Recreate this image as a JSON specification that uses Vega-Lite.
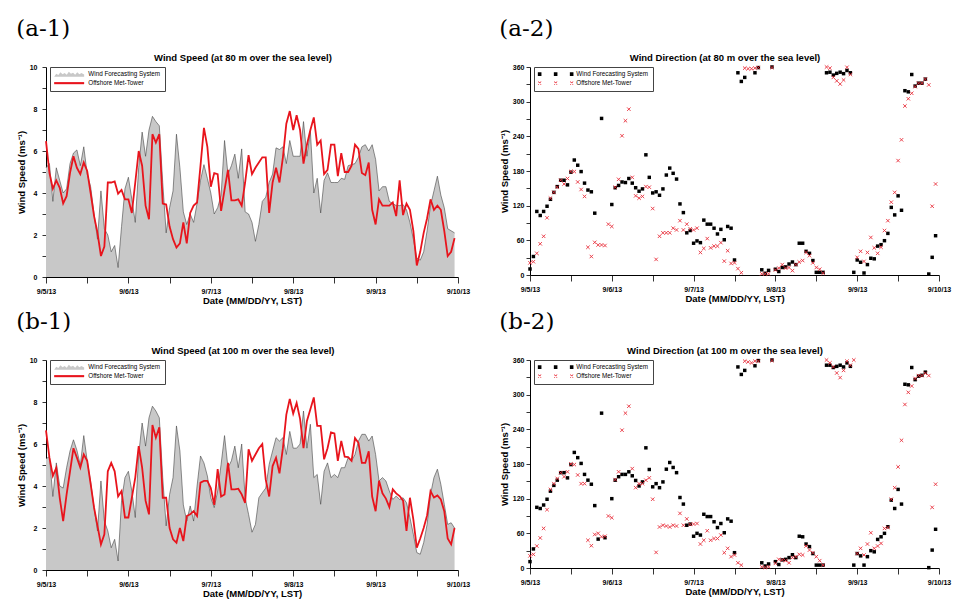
{
"$schema":"https://vega.github.io/schema/vega-lite/v6.json",
"padding":{"left":16,"top":17,"right":5,"bottom":2},
"data":{"values":[
{"h":0,"s80w":5.2,"s80m":6.47,"s100w":5.3,"s100m":6.65,"d80w":10.4,"d80m":21,"d100w":11,"d100m":21},
{"h":1,"s80w":5.4,"s80m":4.96,"s100w":5.4,"s100m":5.35,"d80w":32,"d80m":23,"d100w":33,"d100m":23.6},
{"h":2,"s80w":3.6,"s80m":4.2,"s100w":3.5,"s100m":4.48,"d80w":110,"d80m":37.5,"d100w":105,"d100m":38},
{"h":3,"s80w":5.2,"s80m":4.6,"s100w":5.1,"s100m":4.87,"d80w":103,"d80m":54,"d100w":103,"d100m":52},
{"h":4,"s80w":4.6,"s80m":4.25,"s100w":4.0,"s100m":3.44,"d80w":110,"d80m":67,"d100w":109,"d100m":68.5},
{"h":5,"s80w":4.0,"s80m":3.5,"s100w":3.9,"s100m":2.33,"d80w":119,"d80m":99,"d100w":119,"d100m":101},
{"h":6,"s80w":4.2,"s80m":3.85,"s100w":4.87,"s100m":3.6,"d80w":131,"d80m":133,"d100w":133,"d100m":136},
{"h":7,"s80w":5.4,"s80m":4.96,"s100w":5.67,"s100m":4.7,"d80w":143,"d80m":143,"d100w":143,"d100m":146},
{"h":8,"s80w":5.9,"s80m":5.75,"s100w":6.2,"s100m":5.8,"d80w":153,"d80m":152,"d100w":152,"d100m":155},
{"h":9,"s80w":6.05,"s80m":5.2,"s100w":5.7,"s100m":5.35,"d80w":164,"d80m":164,"d100w":165,"d100m":165},
{"h":10,"s80w":5.3,"s80m":4.9,"s100w":5.0,"s100m":4.87,"d80w":164,"d80m":157.5,"d100w":165,"d100m":158},
{"h":11,"s80w":6.2,"s80m":5.45,"s100w":6.4,"s100m":5.5,"d80w":156,"d80m":167,"d100w":156,"d100m":166.5},
{"h":12,"s80w":4.9,"s80m":5.05,"s100w":5.2,"s100m":5.2,"d80w":178,"d80m":179,"d100w":179,"d100m":180},
{"h":13,"s80w":4.3,"s80m":4.0,"s100w":4.2,"s100m":4.1,"d80w":199,"d80m":179,"d100w":200,"d100m":179},
{"h":14,"s80w":3.0,"s80m":2.9,"s100w":2.97,"s100m":2.97,"d80w":190,"d80m":161,"d100w":191,"d100m":161},
{"h":15,"s80w":1.8,"s80m":2.1,"s100w":1.86,"s100m":2.1,"d80w":179,"d80m":148,"d100w":181,"d100m":146},
{"h":16,"s80w":4.1,"s80m":1.0,"s100w":4.24,"s100m":1.22,"d80w":159,"d80m":136,"d100w":162,"d100m":146},
{"h":17,"s80w":2.3,"s80m":1.45,"s100w":2.33,"s100m":1.7,"d80w":147,"d80m":48,"d100w":152,"d100m":48},
{"h":18,"s80w":2.0,"s80m":4.5,"s100w":1.86,"s100m":4.7,"d80w":144,"d80m":32,"d100w":145,"d100m":38.6},
{"h":19,"s80w":1.2,"s80m":4.5,"s100w":1.06,"s100m":5.1,"d80w":107,"d80m":56.5,"d100w":108,"d100m":58},
{"h":20,"s80w":1.5,"s80m":4.55,"s100w":1.46,"s100m":4.7,"d80w":null,"d80m":52,"d100w":50,"d100m":60},
{"h":21,"s80w":0.45,"s80m":3.97,"s100w":0.43,"s100m":3.5,"d80w":271,"d80m":52,"d100w":268,"d100m":54},
{"h":22,"s80w":2.4,"s80m":4.15,"s100w":3.3,"s100m":3.76,"d80w":null,"d80m":51,"d100w":52.4,"d100m":55},
{"h":23,"s80w":4.2,"s80m":3.7,"s100w":4.4,"s100m":2.5,"d80w":null,"d80m":88,"d100w":null,"d100m":90},
{"h":24,"s80w":4.75,"s80m":3.7,"s100w":4.7,"s100m":2.5,"d80w":122,"d80m":84,"d100w":120,"d100m":87},
{"h":25,"s80w":3.7,"s80m":3.05,"s100w":3.76,"s100m":3.44,"d80w":151,"d80m":152,"d100w":152,"d100m":153},
{"h":26,"s80w":2.6,"s80m":4.5,"s100w":2.5,"s100m":4.4,"d80w":155,"d80m":165.6,"d100w":158,"d100m":166.5},
{"h":27,"s80w":5.2,"s80m":6.0,"s100w":5.5,"s100m":5.9,"d80w":161,"d80m":241,"d100w":162,"d100m":238.5},
{"h":28,"s80w":6.9,"s80m":5.3,"s100w":7.0,"s100m":4.87,"d80w":160,"d80m":267,"d100w":162,"d100m":268},
{"h":29,"s80w":5.75,"s80m":3.4,"s100w":5.9,"s100m":3.3,"d80w":167,"d80m":287,"d100w":166.5,"d100m":280},
{"h":30,"s80w":7.0,"s80m":2.75,"s100w":7.25,"s100m":2.65,"d80w":159,"d80m":169,"d100w":159.6,"d100m":172},
{"h":31,"s80w":7.65,"s80m":6.8,"s100w":7.8,"s100m":6.9,"d80w":151,"d80m":137,"d100w":151.5,"d100m":139},
{"h":32,"s80w":7.4,"s80m":6.4,"s100w":7.57,"s100m":6.3,"d80w":145,"d80m":133,"d100w":142,"d100m":146},
{"h":33,"s80w":7.2,"s80m":6.8,"s100w":7.25,"s100m":6.8,"d80w":149,"d80m":136,"d100w":149,"d100m":146},
{"h":34,"s80w":4.5,"s80m":3.5,"s100w":4.4,"s100m":3.44,"d80w":208,"d80m":153,"d100w":208,"d100m":152},
{"h":35,"s80w":2.1,"s80m":3.45,"s100w":2.1,"s100m":3.44,"d80w":169,"d80m":152,"d100w":170.5,"d100m":156},
{"h":36,"s80w":3.3,"s80m":2.4,"s100w":3.6,"s100m":2.0,"d80w":142,"d80m":115,"d100w":140.5,"d100m":119},
{"h":37,"s80w":4.1,"s80m":1.8,"s100w":4.4,"s100m":1.46,"d80w":144,"d80m":27,"d100w":146,"d100m":27},
{"h":38,"s80w":6.8,"s80m":1.4,"s100w":6.86,"s100m":1.3,"d80w":138,"d80m":67,"d100w":139,"d100m":71},
{"h":39,"s80w":5.2,"s80m":1.6,"s100w":5.67,"s100m":2.0,"d80w":149,"d80m":73,"d100w":149,"d100m":74},
{"h":40,"s80w":3.1,"s80m":2.6,"s100w":3.1,"s100m":1.38,"d80w":173,"d80m":73,"d100w":171,"d100m":72.6},
{"h":41,"s80w":2.5,"s80m":1.6,"s100w":2.33,"s100m":2.57,"d80w":185,"d80m":73,"d100w":182.6,"d100m":71},
{"h":42,"s80w":3.0,"s80m":3.05,"s100w":3.05,"s100m":2.65,"d80w":176,"d80m":81,"d100w":174,"d100m":74},
{"h":43,"s80w":2.6,"s80m":3.4,"s100w":2.33,"s100m":2.8,"d80w":166,"d80m":78,"d100w":165,"d100m":72.6},
{"h":44,"s80w":3.5,"s80m":3.55,"s100w":4.0,"s100m":2.57,"d80w":123,"d80m":94,"d100w":122,"d100m":94.5},
{"h":45,"s80w":4.6,"s80m":5.3,"s100w":5.43,"s100m":4.16,"d80w":108,"d80m":78,"d100w":110.6,"d100m":74},
{"h":46,"s80w":5.35,"s80m":7.1,"s100w":5.1,"s100m":4.24,"d80w":73,"d80m":88,"d100w":74,"d100m":85},
{"h":47,"s80w":4.7,"s80m":6.2,"s100w":4.48,"s100m":4.24,"d80w":77,"d80m":80,"d100w":76,"d100m":75.5},
{"h":48,"s80w":4.0,"s80m":4.3,"s100w":3.44,"s100m":3.9,"d80w":55,"d80m":78,"d100w":55,"d100m":76},
{"h":49,"s80w":3.0,"s80m":4.95,"s100w":2.97,"s100m":3.1,"d80w":59,"d80m":81,"d100w":60,"d100m":77},
{"h":50,"s80w":3.3,"s80m":4.9,"s100w":3.76,"s100m":4.8,"d80w":56,"d80m":39,"d100w":57,"d100m":41.5},
{"h":51,"s80w":3.9,"s80m":3.15,"s100w":5.03,"s100m":3.5,"d80w":95,"d80m":46,"d100w":93,"d100m":48},
{"h":52,"s80w":6.5,"s80m":4.15,"s100w":6.4,"s100m":3.6,"d80w":88,"d80m":63,"d100w":89,"d100m":64.5},
{"h":53,"s80w":4.9,"s80m":5.1,"s100w":4.87,"s100m":5.1,"d80w":88,"d80m":47,"d100w":89,"d100m":48},
{"h":54,"s80w":5.3,"s80m":3.65,"s100w":5.2,"s100m":3.84,"d80w":81,"d80m":50,"d100w":80,"d100m":51},
{"h":55,"s80w":5.85,"s80m":3.65,"s100w":5.9,"s100m":3.84,"d80w":71,"d80m":50,"d100w":70,"d100m":51},
{"h":56,"s80w":4.7,"s80m":3.7,"s100w":4.87,"s100m":3.87,"d80w":79,"d80m":56,"d100w":77,"d100m":57},
{"h":57,"s80w":6.1,"s80m":3.4,"s100w":6.0,"s100m":3.6,"d80w":61,"d80m":24,"d100w":61,"d100m":26.5},
{"h":58,"s80w":3.1,"s80m":4.5,"s100w":3.44,"s100m":3.2,"d80w":84,"d80m":42,"d100w":85,"d100m":34},
{"h":59,"s80w":3.0,"s80m":5.8,"s100w":2.65,"s100m":5.75,"d80w":81,"d80m":20,"d100w":81,"d100m":19.6},
{"h":60,"s80w":2.6,"s80m":4.9,"s100w":1.8,"s100m":5.2,"d80w":26,"d80m":21,"d100w":26.5,"d100m":22.5},
{"h":61,"s80w":1.7,"s80m":5.2,"s100w":2.17,"s100m":5.5,"d80w":350,"d80m":11,"d100w":348,"d100m":9},
{"h":62,"s80w":2.5,"s80m":5.45,"s100w":3.44,"s100m":5.8,"d80w":335,"d80m":4,"d100w":335,"d100m":5},
{"h":63,"s80w":3.6,"s80m":5.7,"s100w":3.68,"s100m":6.0,"d80w":342,"d80m":358,"d100w":342,"d100m":358},
{"h":64,"s80w":3.8,"s80m":5.7,"s100w":3.9,"s100m":4.3,"d80w":null,"d80m":357,"d100w":null,"d100m":356.6},
{"h":65,"s80w":4.5,"s80m":3.05,"s100w":5.03,"s100m":3.5,"d80w":null,"d80m":357,"d100w":null,"d100m":355},
{"h":66,"s80w":4.9,"s80m":4.5,"s100w":5.67,"s100m":4.95,"d80w":350,"d80m":358,"d100w":350,"d100m":358},
{"h":67,"s80w":6.15,"s80m":5.2,"s100w":6.3,"s100m":5.35,"d80w":359,"d80m":359,"d100w":359,"d100m":358},
{"h":68,"s80w":6.07,"s80m":4.5,"s100w":6.14,"s100m":4.6,"d80w":9,"d80m":2,"d100w":9,"d100m":2},
{"h":69,"s80w":6.2,"s80m":5.7,"s100w":6.3,"s100m":5.8,"d80w":3,"d80m":2,"d100w":3.5,"d100m":1},
{"h":70,"s80w":5.4,"s80m":7.3,"s100w":5.5,"s100m":7.4,"d80w":8,"d80m":2,"d100w":7,"d100m":2},
{"h":71,"s80w":6.5,"s80m":7.9,"s100w":6.6,"s100m":8.15,"d80w":360,"d80m":359,"d100w":360,"d100m":359},
{"h":72,"s80w":5.75,"s80m":7.0,"s100w":5.8,"s100m":7.45,"d80w":10,"d80m":8.7,"d100w":11,"d100m":8},
{"h":73,"s80w":5.75,"s80m":7.7,"s100w":5.8,"s100m":7.95,"d80w":6,"d80m":12,"d100w":6,"d100m":15},
{"h":74,"s80w":5.75,"s80m":7.0,"s100w":6.0,"s100m":7.2,"d80w":13,"d80m":18,"d100w":14,"d100m":14},
{"h":75,"s80w":7.4,"s80m":5.4,"s100w":7.57,"s100m":5.8,"d80w":14,"d80m":12,"d100w":15,"d100m":12.7},
{"h":76,"s80w":5.75,"s80m":6.3,"s100w":5.8,"s100m":7.1,"d80w":19,"d80m":13,"d100w":18,"d100m":9},
{"h":77,"s80w":6.95,"s80m":7.0,"s100w":6.94,"s100m":7.65,"d80w":22.5,"d80m":7.5,"d100w":23,"d100m":18},
{"h":78,"s80w":4.0,"s80m":7.6,"s100w":4.4,"s100m":8.22,"d80w":18,"d80m":18,"d100w":18,"d100m":19.6},
{"h":79,"s80w":4.7,"s80m":6.3,"s100w":4.55,"s100m":6.86,"d80w":55,"d80m":22.5,"d100w":55,"d100m":23.6},
{"h":80,"s80w":3.05,"s80m":6.5,"s100w":3.13,"s100m":6.86,"d80w":55,"d80m":25,"d100w":54,"d100m":22.5},
{"h":81,"s80w":4.6,"s80m":4.9,"s100w":4.7,"s100m":5.27,"d80w":41,"d80m":39,"d100w":41.5,"d100m":38},
{"h":82,"s80w":4.96,"s80m":5.1,"s100w":5.1,"s100m":5.8,"d80w":37.5,"d80m":33.5,"d100w":37,"d100m":31},
{"h":83,"s80w":4.5,"s80m":6.3,"s100w":4.4,"s100m":6.55,"d80w":25,"d80m":21,"d100w":25,"d100m":26.5},
{"h":84,"s80w":4.5,"s80m":6.3,"s100w":4.55,"s100m":6.5,"d80w":4.6,"d80m":13,"d100w":5,"d100m":19.6},
{"h":85,"s80w":4.5,"s80m":4.8,"s100w":4.4,"s100m":5.2,"d80w":4.6,"d80m":10,"d100w":5,"d100m":12.7},
{"h":86,"s80w":4.7,"s80m":5.9,"s100w":4.87,"s100m":6.15,"d80w":4.6,"d80m":3,"d100w":5,"d100m":5},
{"h":87,"s80w":4.65,"s80m":5.0,"s100w":4.87,"s100m":5.4,"d80w":350,"d80m":360,"d100w":351,"d100m":360},
{"h":88,"s80w":5.3,"s80m":5.0,"s100w":5.35,"s100m":5.38,"d80w":351,"d80m":358,"d100w":351,"d100m":355},
{"h":89,"s80w":5.35,"s80m":5.3,"s100w":5.2,"s100m":5.2,"d80w":346,"d80m":342,"d100w":347,"d100m":348},
{"h":90,"s80w":5.4,"s80m":6.3,"s100w":5.5,"s100m":6.28,"d80w":349,"d80m":336,"d100w":349,"d100m":337.5},
{"h":91,"s80w":5.7,"s80m":6.1,"s100w":6.14,"s100m":6.06,"d80w":351,"d80m":330.6,"d100w":351,"d100m":329.5},
{"h":92,"s80w":6.2,"s80m":4.95,"s100w":6.46,"s100m":5.1,"d80w":348.5,"d80m":337.5,"d100w":348,"d100m":342},
{"h":93,"s80w":6.3,"s80m":4.85,"s100w":6.46,"s100m":5.1,"d80w":354,"d80m":359.5,"d100w":355,"d100m":358},
{"h":94,"s80w":6.0,"s80m":5.45,"s100w":6.14,"s100m":5.65,"d80w":350,"d80m":347,"d100w":349,"d100m":351},
{"h":95,"s80w":6.3,"s80m":3.2,"s100w":6.38,"s100m":3.5,"d80w":4.6,"d80m":null,"d100w":5,"d100m":360},
{"h":96,"s80w":5.6,"s80m":2.5,"s100w":5.5,"s100m":2.8,"d80w":26,"d80m":30.6,"d100w":25,"d100m":25},
{"h":97,"s80w":4.1,"s80m":3.7,"s100w":4.24,"s100m":4.25,"d80w":22,"d80m":41,"d100w":21,"d100m":34},
{"h":98,"s80w":4.3,"s80m":3.4,"s100w":4.4,"s100m":3.65,"d80w":3.5,"d80m":23.6,"d100w":5,"d100m":22.5},
{"h":99,"s80w":4.3,"s80m":3.4,"s100w":4.24,"s100m":3.4,"d80w":18,"d80m":39,"d100w":19.6,"d100m":41.5},
{"h":100,"s80w":3.6,"s80m":3.4,"s100w":3.76,"s100m":3.0,"d80w":29,"d80m":65,"d100w":30,"d100m":61},
{"h":101,"s80w":3.5,"s80m":3.55,"s100w":3.36,"s100m":3.84,"d80w":28,"d80m":47,"d100w":28,"d100m":34},
{"h":102,"s80w":3.4,"s80m":2.9,"s100w":3.52,"s100m":3.65,"d80w":50,"d80m":37.5,"d100w":49.5,"d100m":38},
{"h":103,"s80w":3.4,"s80m":4.6,"s100w":3.36,"s100m":3.52,"d80w":52.5,"d80m":48,"d100w":54,"d100m":42.6},
{"h":104,"s80w":3.45,"s80m":2.95,"s100w":3.44,"s100m":3.3,"d80w":59.4,"d80m":77,"d100w":60,"d100m":68.5},
{"h":105,"s80w":3.2,"s80m":3.5,"s100w":3.2,"s100m":1.86,"d80w":72,"d80m":94,"d100w":71.4,"d100m":70},
{"h":106,"s80w":2.6,"s80m":3.2,"s100w":2.5,"s100m":3.44,"d80w":117,"d80m":126,"d100w":117.5,"d100m":119},
{"h":107,"s80w":1.8,"s80m":2.2,"s100w":1.7,"s100m":2.4,"d80w":104,"d80m":143,"d100w":103,"d100m":139},
{"h":108,"s80w":0.9,"s80m":0.55,"s100w":0.83,"s100m":1.06,"d80w":137,"d80m":198,"d100w":136,"d100m":175},
{"h":109,"s80w":0.8,"s80m":1.2,"s100w":0.75,"s100m":1.5,"d80w":112,"d80m":234,"d100w":110.6,"d100m":221},
{"h":110,"s80w":1.2,"s80m":2.1,"s100w":1.3,"s100m":2.0,"d80w":319,"d80m":292.5,"d100w":318,"d100m":283},
{"h":111,"s80w":2.2,"s80m":2.8,"s100w":2.17,"s100m":2.6,"d80w":317,"d80m":305,"d100w":317,"d100m":304},
{"h":112,"s80w":3.4,"s80m":3.7,"s100w":3.6,"s100m":3.76,"d80w":347,"d80m":314.5,"d100w":347,"d100m":315},
{"h":113,"s80w":4.1,"s80m":3.2,"s100w":4.4,"s100m":3.45,"d80w":327,"d80m":326,"d100w":326,"d100m":328},
{"h":114,"s80w":4.8,"s80m":3.4,"s100w":4.8,"s100m":3.55,"d80w":332,"d80m":332,"d100w":332,"d100m":333},
{"h":115,"s80w":3.9,"s80m":3.2,"s100w":4.08,"s100m":3.36,"d80w":332,"d80m":332,"d100w":333.5,"d100m":333},
{"h":116,"s80w":3.3,"s80m":2.2,"s100w":3.13,"s100m":2.8,"d80w":339,"d80m":339,"d100w":339,"d100m":337},
{"h":117,"s80w":2.3,"s80m":1.0,"s100w":2.17,"s100m":1.5,"d80w":1.7,"d80m":329,"d100w":0.6,"d100m":333},
{"h":118,"s80w":2.2,"s80m":1.2,"s100w":2.25,"s100m":1.22,"d80w":30.6,"d80m":119,"d100w":31,"d100m":105},
{"h":119,"s80w":2.1,"s80m":1.85,"s100w":2.0,"s100m":2.0,"d80w":68,"d80m":157.5,"d100w":67,"d100m":145}
]},
"spacing":5,
"resolve":{"scale":{"color":"independent","x":"independent","y":"independent"},"legend":{"color":"independent"}},
"vconcat":[
{"spacing":29,
 "resolve":{"scale":{"color":"independent","x":"independent","y":"independent"},"legend":{"color":"independent"}},
 "hconcat":[
 {"title":{"text":"(a-1)","anchor":"start","font":"DejaVu Serif","fontSize":23,"fontWeight":"normal","offset":12},
  "vconcat":[{
   "width":412,"height":210,
   "title":{"text":"Wind Speed (at 80 m over the sea level)","fontSize":9.5,"font":"Liberation Sans","fontWeight":"bold","offset":1,"anchor":"middle","frame":"bounds"},
   "layer":[
    {"mark":{"type":"area","opacity":1},
     "encoding":{
      "x":{"field":"h","type":"quantitative","scale":{"domain":[0,120],"nice":false},"axis":{"values":[0,12,24,36,48,60,72,84,96,108,120],"tickCount":30,"labelExpr":"datum.value % 24 == 0 ? ['9/5/13','9/6/13','9/7/13','9/8/13','9/9/13','9/10/13'][datum.value / 24] : ''","title":"Date (MM/DD/YY, LST)","labelFlush":false,"labelOverlap":false}},
      "y":{"field":"s80w","type":"quantitative","scale":{"domain":[0,10],"nice":false},"axis":{"values":[0,1,2,3,4,5,6,7,8,9,10],"tickCount":30,"labelExpr":"datum.value % 2 == 0 ? '' + datum.value : ''","title":"Wind Speed (ms⁻¹)","labelPadding":5,"labelOverlap":false}},
      "color":{"datum":"Wind Forecasting System","scale":{"domain":["Wind Forecasting System","Offshore Met-Tower"],"range":["#c8c8c8","#e8141c"]},
       "legend":{"orient":"none","legendX":4,"legendY":0,"title":null,"labelFont":"Liberation Sans","labelFontSize":6.3,"labelColor":"#000","labelOffset":28,"symbolSize":36,"symbolStrokeWidth":0,"strokeColor":"#444","fillColor":"#ffffff","padding":4,"rowPadding":2,"labelLimit":200,
        "symbolType":{"expr":"datum.value == 'Offshore Met-Tower' ? 'M-1,-0.35H9V0.35H-1Z' : 'M-1,0.9L-0.3,-0.1L0.4,0.3L1.1,-0.6L1.8,0L2.5,-0.4L3.2,0.2L3.9,-0.8L4.6,-0.1L5.3,-0.5L6,0.2L6.7,-0.6L7.4,0L8.1,-0.4L9,0.1V0.9Z'"}}}}},
    {"mark":{"type":"line","color":"#444444","strokeWidth":0.6},
     "encoding":{"x":{"field":"h","type":"quantitative"},"y":{"field":"s80w","type":"quantitative"}}},
    {"mark":{"type":"line","strokeWidth":1.8},
     "encoding":{"x":{"field":"h","type":"quantitative"},"y":{"field":"s80m","type":"quantitative"},"color":{"datum":"Offshore Met-Tower"}}}
   ]}]},
 {"title":{"text":"(a-2)","anchor":"start","font":"DejaVu Serif","fontSize":23,"fontWeight":"normal","offset":12},
  "vconcat":[{
   "width":409,"height":208,
   "title":{"text":"Wind Direction (at 80 m over the sea level)","fontSize":9.5,"font":"Liberation Sans","fontWeight":"bold","offset":1,"anchor":"middle","frame":"bounds"},
   "layer":[
    {"mark":{"type":"point","shape":"square","filled":true,"size":12,"opacity":1},
     "encoding":{
      "x":{"field":"h","type":"quantitative","scale":{"domain":[0,120],"nice":false},"axis":{"values":[0,12,24,36,48,60,72,84,96,108,120],"tickCount":30,"labelExpr":"datum.value % 24 == 0 ? ['9/5/13','9/6/13','9/7/13','9/8/13','9/9/13','9/10/13'][datum.value / 24] : ''","title":"Date (MM/DD/YY, LST)","labelFlush":false,"labelOverlap":false}},
      "y":{"field":"d80w","type":"quantitative","scale":{"domain":[0,360],"nice":false},"axis":{"values":[0,30,60,90,120,150,180,210,240,270,300,330,360],"tickCount":30,"labelExpr":"datum.value % 60 == 0 ? '' + datum.value : ''","title":"Wind Speed (ms⁻¹)","labelPadding":2,"labelOverlap":false}},
      "color":{"datum":"Wind Forecasting System","scale":{"domain":["Wind Forecasting System","Offshore Met-Tower"],"range":["#000000","#e8303c"]},
       "legend":{"orient":"none","legendX":4,"legendY":0,"title":null,"labelFont":"Liberation Sans","labelFontSize":6.3,"labelColor":"#000","labelOffset":32,"symbolSize":36,"symbolStrokeWidth":0,"strokeColor":"#444","fillColor":"#ffffff","padding":4,"rowPadding":2,"labelLimit":200,
        "symbolType":{"expr":"datum.value == 'Wind Forecasting System' ? 'M-1.1,-0.6H0.1V0.6H-1.1Z M4.23,-0.6H5.43V0.6H4.23Z M9.57,-0.6H10.77V0.6H9.57Z' : 'M-1.1,-0.43L-0.93,-0.6L0.1,0.43L-0.07,0.6Z M-1.1,0.43L-0.93,0.6L0.1,-0.43L-0.07,-0.6Z M4.23,-0.43L4.4,-0.6L5.43,0.43L5.26,0.6Z M4.23,0.43L4.4,0.6L5.43,-0.43L5.26,-0.6Z M9.57,-0.43L9.74,-0.6L10.77,0.43L10.6,0.6Z M9.57,0.43L9.74,0.6L10.77,-0.43L10.6,-0.6Z'"}}}}},
    {"mark":{"type":"point","shape":"M-1,-1L1,1M-1,1L1,-1","filled":false,"size":12,"strokeWidth":0.9,"opacity":1},
     "encoding":{"x":{"field":"h","type":"quantitative"},"y":{"field":"d80m","type":"quantitative"},"color":{"datum":"Offshore Met-Tower"}}}
   ]}]}
 ]},
{"spacing":29,
 "resolve":{"scale":{"color":"independent","x":"independent","y":"independent"},"legend":{"color":"independent"}},
 "hconcat":[
 {"title":{"text":"(b-1)","anchor":"start","font":"DejaVu Serif","fontSize":23,"fontWeight":"normal","offset":12},
  "vconcat":[{
   "width":412,"height":210,
   "title":{"text":"Wind Speed (at 100 m over the sea level)","fontSize":9.5,"font":"Liberation Sans","fontWeight":"bold","offset":1,"anchor":"middle","frame":"bounds"},
   "layer":[
    {"mark":{"type":"area","opacity":1},
     "encoding":{
      "x":{"field":"h","type":"quantitative","scale":{"domain":[0,120],"nice":false},"axis":{"values":[0,12,24,36,48,60,72,84,96,108,120],"tickCount":30,"labelExpr":"datum.value % 24 == 0 ? ['9/5/13','9/6/13','9/7/13','9/8/13','9/9/13','9/10/13'][datum.value / 24] : ''","title":"Date (MM/DD/YY, LST)","labelFlush":false,"labelOverlap":false}},
      "y":{"field":"s100w","type":"quantitative","scale":{"domain":[0,10],"nice":false},"axis":{"values":[0,1,2,3,4,5,6,7,8,9,10],"tickCount":30,"labelExpr":"datum.value % 2 == 0 ? '' + datum.value : ''","title":"Wind Speed (ms⁻¹)","labelPadding":5,"labelOverlap":false}},
      "color":{"datum":"Wind Forecasting System","scale":{"domain":["Wind Forecasting System","Offshore Met-Tower"],"range":["#c8c8c8","#e8141c"]},
       "legend":{"orient":"none","legendX":4,"legendY":0,"title":null,"labelFont":"Liberation Sans","labelFontSize":6.3,"labelColor":"#000","labelOffset":28,"symbolSize":36,"symbolStrokeWidth":0,"strokeColor":"#444","fillColor":"#ffffff","padding":4,"rowPadding":2,"labelLimit":200,
        "symbolType":{"expr":"datum.value == 'Offshore Met-Tower' ? 'M-1,-0.35H9V0.35H-1Z' : 'M-1,0.9L-0.3,-0.1L0.4,0.3L1.1,-0.6L1.8,0L2.5,-0.4L3.2,0.2L3.9,-0.8L4.6,-0.1L5.3,-0.5L6,0.2L6.7,-0.6L7.4,0L8.1,-0.4L9,0.1V0.9Z'"}}}}},
    {"mark":{"type":"line","color":"#444444","strokeWidth":0.6},
     "encoding":{"x":{"field":"h","type":"quantitative"},"y":{"field":"s100w","type":"quantitative"}}},
    {"mark":{"type":"line","strokeWidth":1.8},
     "encoding":{"x":{"field":"h","type":"quantitative"},"y":{"field":"s100m","type":"quantitative"},"color":{"datum":"Offshore Met-Tower"}}}
   ]}]},
 {"title":{"text":"(b-2)","anchor":"start","font":"DejaVu Serif","fontSize":23,"fontWeight":"normal","offset":12},
  "vconcat":[{
   "width":409,"height":208,
   "title":{"text":"Wind Direction (at 100 m over the sea level)","fontSize":9.5,"font":"Liberation Sans","fontWeight":"bold","offset":1,"anchor":"middle","frame":"bounds"},
   "layer":[
    {"mark":{"type":"point","shape":"square","filled":true,"size":12,"opacity":1},
     "encoding":{
      "x":{"field":"h","type":"quantitative","scale":{"domain":[0,120],"nice":false},"axis":{"values":[0,12,24,36,48,60,72,84,96,108,120],"tickCount":30,"labelExpr":"datum.value % 24 == 0 ? ['9/5/13','9/6/13','9/7/13','9/8/13','9/9/13','9/10/13'][datum.value / 24] : ''","title":"Date (MM/DD/YY, LST)","labelFlush":false,"labelOverlap":false}},
      "y":{"field":"d100w","type":"quantitative","scale":{"domain":[0,360],"nice":false},"axis":{"values":[0,30,60,90,120,150,180,210,240,270,300,330,360],"tickCount":30,"labelExpr":"datum.value % 60 == 0 ? '' + datum.value : ''","title":"Wind Speed (ms⁻¹)","labelPadding":2,"labelOverlap":false}},
      "color":{"datum":"Wind Forecasting System","scale":{"domain":["Wind Forecasting System","Offshore Met-Tower"],"range":["#000000","#e8303c"]},
       "legend":{"orient":"none","legendX":4,"legendY":0,"title":null,"labelFont":"Liberation Sans","labelFontSize":6.3,"labelColor":"#000","labelOffset":32,"symbolSize":36,"symbolStrokeWidth":0,"strokeColor":"#444","fillColor":"#ffffff","padding":4,"rowPadding":2,"labelLimit":200,
        "symbolType":{"expr":"datum.value == 'Wind Forecasting System' ? 'M-1.1,-0.6H0.1V0.6H-1.1Z M4.23,-0.6H5.43V0.6H4.23Z M9.57,-0.6H10.77V0.6H9.57Z' : 'M-1.1,-0.43L-0.93,-0.6L0.1,0.43L-0.07,0.6Z M-1.1,0.43L-0.93,0.6L0.1,-0.43L-0.07,-0.6Z M4.23,-0.43L4.4,-0.6L5.43,0.43L5.26,0.6Z M4.23,0.43L4.4,0.6L5.43,-0.43L5.26,-0.6Z M9.57,-0.43L9.74,-0.6L10.77,0.43L10.6,0.6Z M9.57,0.43L9.74,0.6L10.77,-0.43L10.6,-0.6Z'"}}}}},
    {"mark":{"type":"point","shape":"M-1,-1L1,1M-1,1L1,-1","filled":false,"size":12,"strokeWidth":0.9,"opacity":1},
     "encoding":{"x":{"field":"h","type":"quantitative"},"y":{"field":"d100m","type":"quantitative"},"color":{"datum":"Offshore Met-Tower"}}}
   ]}]}
 ]}
],
"config":{
 "font":"Liberation Sans",
 "view":{"stroke":null},
 "axis":{"grid":false,"domainColor":"#000","domainWidth":1,"tickColor":"#000","tickWidth":0.8,"labelFont":"Liberation Sans","labelFontSize":7,"labelFontWeight":"bold","labelColor":"#000","titleFont":"Liberation Sans","titleFontSize":9.5,"titleFontWeight":"bold","titleColor":"#000","labelOverlap":false},
 "axisX":{"tickSize":6,"labelPadding":4,"titlePadding":1},
 "axisY":{"tickSize":4,"titlePadding":3,"labelOverlap":false},
 "title":{"color":"#000"}
}
}
